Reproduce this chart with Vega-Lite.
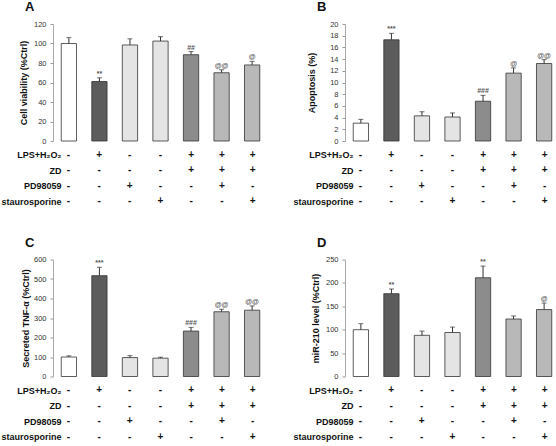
{
  "$schema": "https://vega.github.io/schema/vega-lite/v6.json",
  "padding": {"left": 0, "top": 1, "right": 0, "bottom": 0},
  "background": "white",
  "datasets": {
    "bars": [
      {"panel": "A", "cond": "1", "value": 100, "hi": 106, "sig": "", "grp": "ctrl"},
      {"panel": "A", "cond": "2", "value": 61, "hi": 64.8, "sig": "**", "grp": "lps"},
      {"panel": "A", "cond": "3", "value": 98.5, "hi": 104.8, "sig": "", "grp": "single"},
      {"panel": "A", "cond": "4", "value": 102.5, "hi": 107, "sig": "", "grp": "single"},
      {"panel": "A", "cond": "5", "value": 88.5, "hi": 91.7, "sig": "##", "grp": "zd"},
      {"panel": "A", "cond": "6", "value": 70, "hi": 73.1, "sig": "@@", "grp": "comb"},
      {"panel": "A", "cond": "7", "value": 78, "hi": 81.7, "sig": "@", "grp": "comb"},
      {"panel": "B", "cond": "1", "value": 3.05, "hi": 3.7, "sig": "", "grp": "ctrl"},
      {"panel": "B", "cond": "2", "value": 17.3, "hi": 18.4, "sig": "***", "grp": "lps"},
      {"panel": "B", "cond": "3", "value": 4.3, "hi": 5.0, "sig": "", "grp": "single"},
      {"panel": "B", "cond": "4", "value": 4.1, "hi": 4.8, "sig": "", "grp": "single"},
      {"panel": "B", "cond": "5", "value": 6.8, "hi": 7.8, "sig": "###", "grp": "zd"},
      {"panel": "B", "cond": "6", "value": 11.6, "hi": 12.5, "sig": "@", "grp": "comb"},
      {"panel": "B", "cond": "7", "value": 13.25, "hi": 13.9, "sig": "@@", "grp": "comb"},
      {"panel": "C", "cond": "1", "value": 100, "hi": 106, "sig": "", "grp": "ctrl"},
      {"panel": "C", "cond": "2", "value": 517, "hi": 560, "sig": "***", "grp": "lps"},
      {"panel": "C", "cond": "3", "value": 97, "hi": 107, "sig": "", "grp": "single"},
      {"panel": "C", "cond": "4", "value": 94, "hi": 99, "sig": "", "grp": "single"},
      {"panel": "C", "cond": "5", "value": 233, "hi": 252, "sig": "###", "grp": "zd"},
      {"panel": "C", "cond": "6", "value": 332, "hi": 345, "sig": "@@", "grp": "comb"},
      {"panel": "C", "cond": "7", "value": 340, "hi": 362, "sig": "@@", "grp": "comb"},
      {"panel": "D", "cond": "1", "value": 100, "hi": 112.8, "sig": "", "grp": "ctrl"},
      {"panel": "D", "cond": "2", "value": 177, "hi": 187, "sig": "**", "grp": "lps"},
      {"panel": "D", "cond": "3", "value": 88, "hi": 97, "sig": "", "grp": "single"},
      {"panel": "D", "cond": "4", "value": 94, "hi": 105.6, "sig": "", "grp": "single"},
      {"panel": "D", "cond": "5", "value": 211, "hi": 236, "sig": "**", "grp": "zd"},
      {"panel": "D", "cond": "6", "value": 122.8, "hi": 129.3, "sig": "", "grp": "comb"},
      {"panel": "D", "cond": "7", "value": 143, "hi": 157, "sig": "@", "grp": "comb"}
    ],
    "table": [
      {"treatment": "LPS+H₂O₂", "cond": "1", "sign": "-"},
      {"treatment": "LPS+H₂O₂", "cond": "2", "sign": "+"},
      {"treatment": "LPS+H₂O₂", "cond": "3", "sign": "-"},
      {"treatment": "LPS+H₂O₂", "cond": "4", "sign": "-"},
      {"treatment": "LPS+H₂O₂", "cond": "5", "sign": "+"},
      {"treatment": "LPS+H₂O₂", "cond": "6", "sign": "+"},
      {"treatment": "LPS+H₂O₂", "cond": "7", "sign": "+"},
      {"treatment": "ZD", "cond": "1", "sign": "-"},
      {"treatment": "ZD", "cond": "2", "sign": "-"},
      {"treatment": "ZD", "cond": "3", "sign": "-"},
      {"treatment": "ZD", "cond": "4", "sign": "-"},
      {"treatment": "ZD", "cond": "5", "sign": "+"},
      {"treatment": "ZD", "cond": "6", "sign": "+"},
      {"treatment": "ZD", "cond": "7", "sign": "+"},
      {"treatment": "PD98059", "cond": "1", "sign": "-"},
      {"treatment": "PD98059", "cond": "2", "sign": "-"},
      {"treatment": "PD98059", "cond": "3", "sign": "+"},
      {"treatment": "PD98059", "cond": "4", "sign": "-"},
      {"treatment": "PD98059", "cond": "5", "sign": "-"},
      {"treatment": "PD98059", "cond": "6", "sign": "+"},
      {"treatment": "PD98059", "cond": "7", "sign": "-"},
      {"treatment": "staurosporine", "cond": "1", "sign": "-"},
      {"treatment": "staurosporine", "cond": "2", "sign": "-"},
      {"treatment": "staurosporine", "cond": "3", "sign": "-"},
      {"treatment": "staurosporine", "cond": "4", "sign": "+"},
      {"treatment": "staurosporine", "cond": "5", "sign": "-"},
      {"treatment": "staurosporine", "cond": "6", "sign": "-"},
      {"treatment": "staurosporine", "cond": "7", "sign": "+"}
    ]
  },
  "vconcat": [
    {
      "hconcat": [
        {
          "spacing": 2,
          "vconcat": [
            {
              "width": 215, "height": 117,
              "title": {"text": "A"},
              "data": {"name": "bars"},
              "transform": [{"filter": "datum.panel == 'A'"}],
              "encoding": {
                "x": {"field": "cond", "type": "nominal", "axis": null, "scale": {"paddingInner": 0.5, "paddingOuter": 0.27}},
                "y": {"field": "value", "type": "quantitative", "scale": {"domain": [0, 120], "nice": false}, "axis": {"title": "Cell viability (%Ctrl)", "titlePadding": 5, "values": [0, 20, 40, 60, 80, 100, 120], "labelOverlap": false}}
              },
              "layer": [
                {"mark": {"type": "bar", "stroke": "#333", "strokeWidth": 0.8},
                 "encoding": {
                   "fill": {"field": "grp", "type": "nominal", "legend": null, "scale": {"domain": ["ctrl", "lps", "single", "zd", "comb"], "range": ["#ffffff", "#5c5c5c", "#e4e4e4", "#8c8c8c", "#b8b8b8"]}}}},
                {"mark": {"type": "rule", "color": "#333", "strokeWidth": 1}, "encoding": {"y2": {"field": "hi"}}},
                {"mark": {"type": "tick", "color": "#333", "thickness": 1, "size": 5}, "encoding": {"y": {"field": "hi", "type": "quantitative"}}},
                {"mark": {"type": "text", "baseline": "bottom", "dy": -1, "fontSize": 7, "color": "#555", "font": "Liberation Sans", "fontWeight": "bold"}, "encoding": {"y": {"field": "hi", "type": "quantitative"}, "text": {"field": "sig"}}}
              ]
            },
            {
              "width": 215, "height": 62,
              "data": {"name": "table"},
              "mark": {"type": "text", "fontWeight": "bold", "fontSize": 10, "font": "Liberation Sans", "color": "#111"},
              "encoding": {
                "x": {"field": "cond", "type": "nominal", "axis": null, "scale": {"paddingInner": 0.5, "paddingOuter": 0.27}},
                "y": {"field": "treatment", "type": "nominal", "sort": ["LPS+H₂O₂", "ZD", "PD98059", "staurosporine"], "scale": {"paddingInner": 0, "paddingOuter": 0}, "axis": {"title": null, "domain": false, "ticks": false, "tickSize": 0, "labelPadding": -8, "labelFont": "Liberation Sans", "labelFontSize": 9, "labelFontWeight": "bold", "labelColor": "#111"}},
                "text": {"field": "sign"}
              }
            }
          ]
        },
        {
          "spacing": 2,
          "vconcat": [
            {
              "width": 215, "height": 117,
              "title": {"text": "B"},
              "data": {"name": "bars"},
              "transform": [{"filter": "datum.panel == 'B'"}],
              "encoding": {
                "x": {"field": "cond", "type": "nominal", "axis": null, "scale": {"paddingInner": 0.5, "paddingOuter": 0.27}},
                "y": {"field": "value", "type": "quantitative", "scale": {"domain": [0, 20], "nice": false}, "axis": {"title": "Apoptosis  (%)", "titlePadding": 13, "values": [0, 2, 4, 6, 8, 10, 12, 14, 16, 18, 20], "labelOverlap": false}}
              },
              "layer": [
                {"mark": {"type": "bar", "stroke": "#333", "strokeWidth": 0.8},
                 "encoding": {
                   "fill": {"field": "grp", "type": "nominal", "legend": null, "scale": {"domain": ["ctrl", "lps", "single", "zd", "comb"], "range": ["#ffffff", "#5c5c5c", "#e4e4e4", "#8c8c8c", "#b8b8b8"]}}}},
                {"mark": {"type": "rule", "color": "#333", "strokeWidth": 1}, "encoding": {"y2": {"field": "hi"}}},
                {"mark": {"type": "tick", "color": "#333", "thickness": 1, "size": 5}, "encoding": {"y": {"field": "hi", "type": "quantitative"}}},
                {"mark": {"type": "text", "baseline": "bottom", "dy": -1, "fontSize": 7, "color": "#555", "font": "Liberation Sans", "fontWeight": "bold"}, "encoding": {"y": {"field": "hi", "type": "quantitative"}, "text": {"field": "sig"}}}
              ]
            },
            {
              "width": 215, "height": 62,
              "data": {"name": "table"},
              "mark": {"type": "text", "fontWeight": "bold", "fontSize": 10, "font": "Liberation Sans", "color": "#111"},
              "encoding": {
                "x": {"field": "cond", "type": "nominal", "axis": null, "scale": {"paddingInner": 0.5, "paddingOuter": 0.27}},
                "y": {"field": "treatment", "type": "nominal", "sort": ["LPS+H₂O₂", "ZD", "PD98059", "staurosporine"], "scale": {"paddingInner": 0, "paddingOuter": 0}, "axis": {"title": null, "domain": false, "ticks": false, "tickSize": 0, "labelPadding": -8, "labelFont": "Liberation Sans", "labelFontSize": 9, "labelFontWeight": "bold", "labelColor": "#111"}},
                "text": {"field": "sign"}
              }
            }
          ]
        }
      ],
      "spacing": 24
    },
    {
      "hconcat": [
        {
          "spacing": 2,
          "vconcat": [
            {
              "width": 215, "height": 117,
              "title": {"text": "C"},
              "data": {"name": "bars"},
              "transform": [{"filter": "datum.panel == 'C'"}],
              "encoding": {
                "x": {"field": "cond", "type": "nominal", "axis": null, "scale": {"paddingInner": 0.5, "paddingOuter": 0.27}},
                "y": {"field": "value", "type": "quantitative", "scale": {"domain": [0, 600], "nice": false}, "axis": {"title": "Secreted TNF-α (%Ctrl)", "titlePadding": 3, "values": [0, 100, 200, 300, 400, 500, 600], "labelOverlap": false}}
              },
              "layer": [
                {"mark": {"type": "bar", "stroke": "#333", "strokeWidth": 0.8},
                 "encoding": {
                   "fill": {"field": "grp", "type": "nominal", "legend": null, "scale": {"domain": ["ctrl", "lps", "single", "zd", "comb"], "range": ["#ffffff", "#5c5c5c", "#e4e4e4", "#8c8c8c", "#b8b8b8"]}}}},
                {"mark": {"type": "rule", "color": "#333", "strokeWidth": 1}, "encoding": {"y2": {"field": "hi"}}},
                {"mark": {"type": "tick", "color": "#333", "thickness": 1, "size": 5}, "encoding": {"y": {"field": "hi", "type": "quantitative"}}},
                {"mark": {"type": "text", "baseline": "bottom", "dy": -1, "fontSize": 7, "color": "#555", "font": "Liberation Sans", "fontWeight": "bold"}, "encoding": {"y": {"field": "hi", "type": "quantitative"}, "text": {"field": "sig"}}}
              ]
            },
            {
              "width": 215, "height": 62,
              "data": {"name": "table"},
              "mark": {"type": "text", "fontWeight": "bold", "fontSize": 10, "font": "Liberation Sans", "color": "#111"},
              "encoding": {
                "x": {"field": "cond", "type": "nominal", "axis": null, "scale": {"paddingInner": 0.5, "paddingOuter": 0.27}},
                "y": {"field": "treatment", "type": "nominal", "sort": ["LPS+H₂O₂", "ZD", "PD98059", "staurosporine"], "scale": {"paddingInner": 0, "paddingOuter": 0}, "axis": {"title": null, "domain": false, "ticks": false, "tickSize": 0, "labelPadding": -8, "labelFont": "Liberation Sans", "labelFontSize": 9, "labelFontWeight": "bold", "labelColor": "#111"}},
                "text": {"field": "sign"}
              }
            }
          ]
        },
        {
          "spacing": 2,
          "vconcat": [
            {
              "width": 215, "height": 117,
              "title": {"text": "D"},
              "data": {"name": "bars"},
              "transform": [{"filter": "datum.panel == 'D'"}],
              "encoding": {
                "x": {"field": "cond", "type": "nominal", "axis": null, "scale": {"paddingInner": 0.5, "paddingOuter": 0.27}},
                "y": {"field": "value", "type": "quantitative", "scale": {"domain": [0, 250], "nice": false}, "axis": {"title": "miR-210 level (%Ctrl)", "titlePadding": 4.5, "values": [0, 50, 100, 150, 200, 250], "labelOverlap": false}}
              },
              "layer": [
                {"mark": {"type": "bar", "stroke": "#333", "strokeWidth": 0.8},
                 "encoding": {
                   "fill": {"field": "grp", "type": "nominal", "legend": null, "scale": {"domain": ["ctrl", "lps", "single", "zd", "comb"], "range": ["#ffffff", "#5c5c5c", "#e4e4e4", "#8c8c8c", "#b8b8b8"]}}}},
                {"mark": {"type": "rule", "color": "#333", "strokeWidth": 1}, "encoding": {"y2": {"field": "hi"}}},
                {"mark": {"type": "tick", "color": "#333", "thickness": 1, "size": 5}, "encoding": {"y": {"field": "hi", "type": "quantitative"}}},
                {"mark": {"type": "text", "baseline": "bottom", "dy": -1, "fontSize": 7, "color": "#555", "font": "Liberation Sans", "fontWeight": "bold"}, "encoding": {"y": {"field": "hi", "type": "quantitative"}, "text": {"field": "sig"}}}
              ]
            },
            {
              "width": 215, "height": 62,
              "data": {"name": "table"},
              "mark": {"type": "text", "fontWeight": "bold", "fontSize": 10, "font": "Liberation Sans", "color": "#111"},
              "encoding": {
                "x": {"field": "cond", "type": "nominal", "axis": null, "scale": {"paddingInner": 0.5, "paddingOuter": 0.27}},
                "y": {"field": "treatment", "type": "nominal", "sort": ["LPS+H₂O₂", "ZD", "PD98059", "staurosporine"], "scale": {"paddingInner": 0, "paddingOuter": 0}, "axis": {"title": null, "domain": false, "ticks": false, "tickSize": 0, "labelPadding": -8, "labelFont": "Liberation Sans", "labelFontSize": 9, "labelFontWeight": "bold", "labelColor": "#111"}},
                "text": {"field": "sign"}
              }
            }
          ]
        }
      ],
      "spacing": 24
    }
  ],
  "spacing": 27.5,
  "config": {
    "view": {"stroke": null},
    "font": "Liberation Sans",
    "axis": {"grid": false, "labelOverlap": false, "labelFont": "Liberation Sans", "labelFontSize": 7.5, "labelColor": "#333", "tickColor": "#999", "domainColor": "#aaa", "tickSize": 3, "labelPadding": 4, "titleFont": "Liberation Sans", "titleFontSize": 9, "titleFontWeight": "bold", "titleColor": "#111", "titlePadding": 4},
    "title": {"font": "Liberation Sans", "fontSize": 13, "fontWeight": "bold", "anchor": "start", "frame": "group", "dx": -28, "offset": 6, "color": "#111"}
  }
}
